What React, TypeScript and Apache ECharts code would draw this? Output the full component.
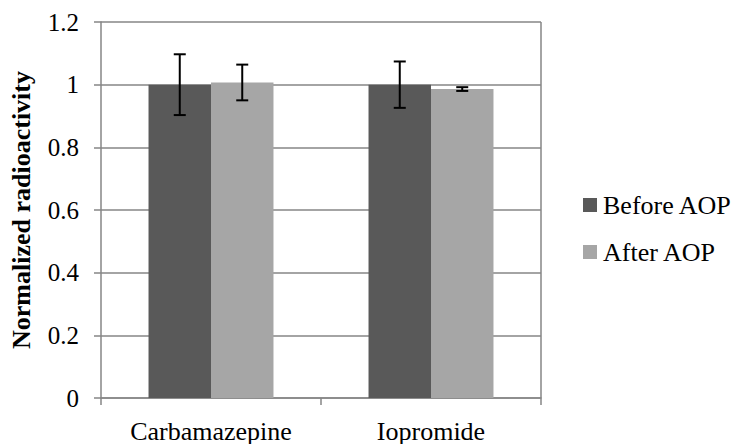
import React, { useEffect, useRef } from "react";
import * as echarts from "echarts";

const categories = ["Carbamazepine", "Iopromide"];
const seriesNames = ["Before AOP", "After AOP"];
const beforeValues = [1.0, 1.0];
const afterValues = [1.007, 0.986];
const beforeErrors = [0.097, 0.074];
const afterErrors = [0.057, 0.006];
const yTicks = [0, 0.2, 0.4, 0.6, 0.8, 1, 1.2];

const colors = ["#595959", "#a6a6a6"];
const FONT = "'Liberation Serif', 'Times New Roman', serif";
const BAR_FRACTION = 0.284;

export default function App() {
  const ref = useRef<HTMLDivElement>(null);

  useEffect(() => {
    if (!ref.current) return;
    const chart = echarts.init(ref.current, undefined, { renderer: "svg" });

    // [categoryIndex, low, high, seriesIndex]
    const errData: number[][] = [];
    categories.forEach((_, i) => {
      errData.push([i, beforeValues[i] - beforeErrors[i], beforeValues[i] + beforeErrors[i], 0]);
      errData.push([i, afterValues[i] - afterErrors[i], afterValues[i] + afterErrors[i], 1]);
    });

    chart.setOption({
      animation: false,
      grid: { left: 101, right: 196, top: 22, bottom: 46, containLabel: false },
      legend: {
        orient: "vertical",
        left: 583,
        top: 192,
        padding: 0,
        itemWidth: 14,
        itemHeight: 14,
        itemGap: 21,
        icon: "rect",
        textStyle: { fontFamily: FONT, fontSize: 26, color: "#000", padding: [0, 0, 0, 1] },
        data: seriesNames,
      },
      xAxis: {
        type: "category",
        data: categories,
        axisLine: { lineStyle: { color: "#868686", width: 1.5 } },
        axisTick: { show: true, length: 7, lineStyle: { color: "#868686", width: 1.5 } },
        axisLabel: { fontFamily: FONT, fontSize: 26, color: "#000", margin: 20 },
      },
      yAxis: {
        type: "value",
        min: 0,
        max: 1.2,
        interval: 0.2,
        name: "Normalized radioactivity",
        nameLocation: "middle",
        nameGap: 67,
        nameTextStyle: { fontFamily: FONT, fontSize: 26, fontWeight: "bold", color: "#000" },
        axisLine: { show: true, lineStyle: { color: "#868686", width: 1.5 } },
        axisTick: { show: true, inside: false, length: 7, lineStyle: { color: "#868686", width: 1.5 } },
        axisLabel: {
          fontFamily: FONT,
          fontSize: 25,
          color: "#000",
          margin: 22,
          formatter: (v: number) => {
            const t = yTicks.find((x) => Math.abs(x - v) < 1e-9);
            return t === undefined ? "" : String(Number(t.toFixed(1)));
          },
        },
        splitLine: { show: true, lineStyle: { color: "#868686", width: 1.5 } },
      },
      graphic: [
        {
          type: "line",
          shape: { x1: 541, y1: 22, x2: 541, y2: 398 },
          style: { stroke: "#868686", lineWidth: 1.5 },
        },
      ],
      series: [
        {
          name: seriesNames[0],
          type: "bar",
          data: beforeValues,
          barWidth: BAR_FRACTION * 100 + "%",
          barGap: "0%",
          itemStyle: { color: colors[0] },
        },
        {
          name: seriesNames[1],
          type: "bar",
          data: afterValues,
          barWidth: BAR_FRACTION * 100 + "%",
          barGap: "0%",
          itemStyle: { color: colors[1] },
        },
        {
          type: "custom",
          name: "errors",
          z: 10,
          data: errData,
          renderItem: (params: any, api: any) => {
            const cat = api.value(0);
            const lo = api.coord([cat, api.value(1)]);
            const hi = api.coord([cat, api.value(2)]);
            const bw = api.size([1, 0])[0] * BAR_FRACTION;
            const s = api.value(3);
            const x = lo[0] + (s === 0 ? -bw / 2 : bw / 2);
            const cap = 6;
            const style = { stroke: "#000", lineWidth: 2 };
            return {
              type: "group",
              children: [
                { type: "line", shape: { x1: x, y1: lo[1], x2: x, y2: hi[1] }, style },
                { type: "line", shape: { x1: x - cap, y1: lo[1], x2: x + cap, y2: lo[1] }, style },
                { type: "line", shape: { x1: x - cap, y1: hi[1], x2: x + cap, y2: hi[1] }, style },
              ],
            };
          },
        },
      ],
    });

    return () => chart.dispose();
  }, []);

  return <div ref={ref} style={{ width: 737, height: 444, position: "absolute", left: 0, top: 0 }} />;
}
